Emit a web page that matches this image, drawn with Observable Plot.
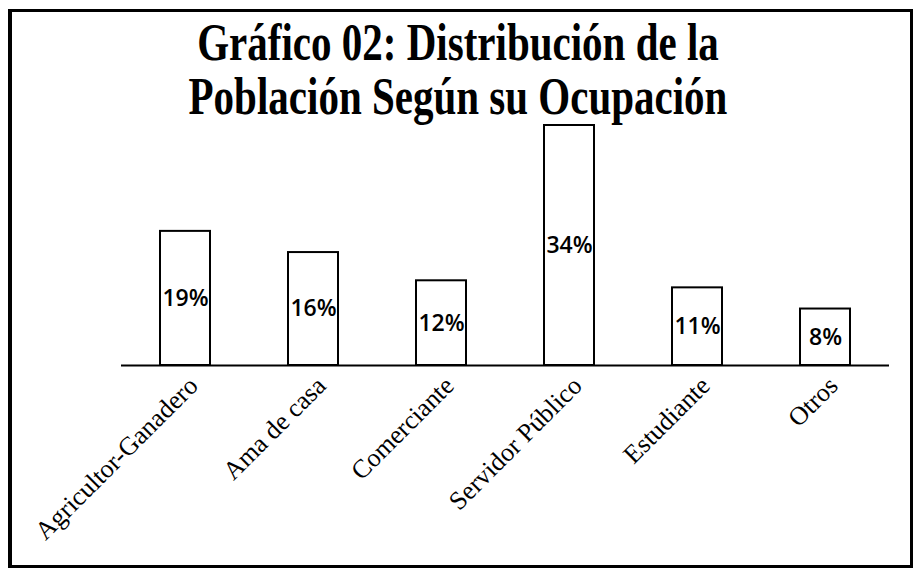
<!DOCTYPE html>
<html>
<head>
<meta charset="utf-8">
<script src="https://cdn.jsdelivr.net/npm/d3@7"></script>
<script src="https://cdn.jsdelivr.net/npm/@observablehq/plot@0.6"></script>
<style>
  html, body { margin: 0; padding: 0; background: #fff; }
  #page { position: relative; width: 916px; height: 571px; overflow: hidden; background: #fff; }
  #frame { position: absolute; left: 8px; top: 9px; width: 898px; height: 553px; border: 3px solid #000; border-left-width: 4px; }
  .title { position: absolute; left: 0; width: 916px; text-align: center; white-space: nowrap;
           font-family: "Liberation Serif", "DejaVu Serif", serif; font-weight: bold;
           font-size: 41px; line-height: 39px; height: 39px; color: #000;
           transform: scaleY(1.28); transform-origin: 50% 0; }
  #t1 { top: 18px; }
  #t2 { top: 72px; }
  #chart { position: absolute; left: 0; top: 120px; }
</style>
</head>
<body>
<div id="page">
  <div id="frame"></div>
  <div class="title" id="t1">Gráfico 02: Distribución de la</div>
  <div class="title" id="t2">Población Según su Ocupación</div>
  <div id="chart"></div>
</div>
<script>
const categories = ["Agricultor-Ganadero", "Ama de casa", "Comerciante", "Servidor Público", "Estudiante", "Otros"];
const values = [19, 16, 12, 34, 11, 8];
const labels = ["19%", "16%", "12%", "34%", "11%", "8%"];

const data = categories.map((c, i) => ({ cat: c, value: values[i], label: labels[i] }));

const plot = Plot.plot({
  width: 916,
  height: 440,
  marginLeft: 121,
  marginRight: 27,
  marginTop: 5,
  marginBottom: 195,
  style: { background: "transparent", overflow: "visible" },
  x: { domain: categories, paddingInner: 0.61, paddingOuter: 0.305, label: null },
  y: { domain: [0, 34], axis: null },
  marks: [
    Plot.barY(data, { x: "cat", y: "value", fill: "white", stroke: "black", strokeWidth: 2 }),
    Plot.ruleY([0], { stroke: "black", strokeWidth: 2 }),
    Plot.text(data, {
      x: "cat", y: d => d.value / 2, text: "label",
      fontFamily: "'Open Sans', sans-serif", fontSize: 23, fontWeight: 600, fill: "black"
    }),
    Plot.axisX({
      tickSize: 0, tickPadding: 16, tickRotate: -45, textAnchor: "end", dx: 8,
      fontSize: 26, fontFamily: "'Liberation Serif', serif", fill: "black", label: null
    })
  ]
});
plot.style.color = "black";
document.getElementById("chart").appendChild(plot);
</script>
</body>
</html>
